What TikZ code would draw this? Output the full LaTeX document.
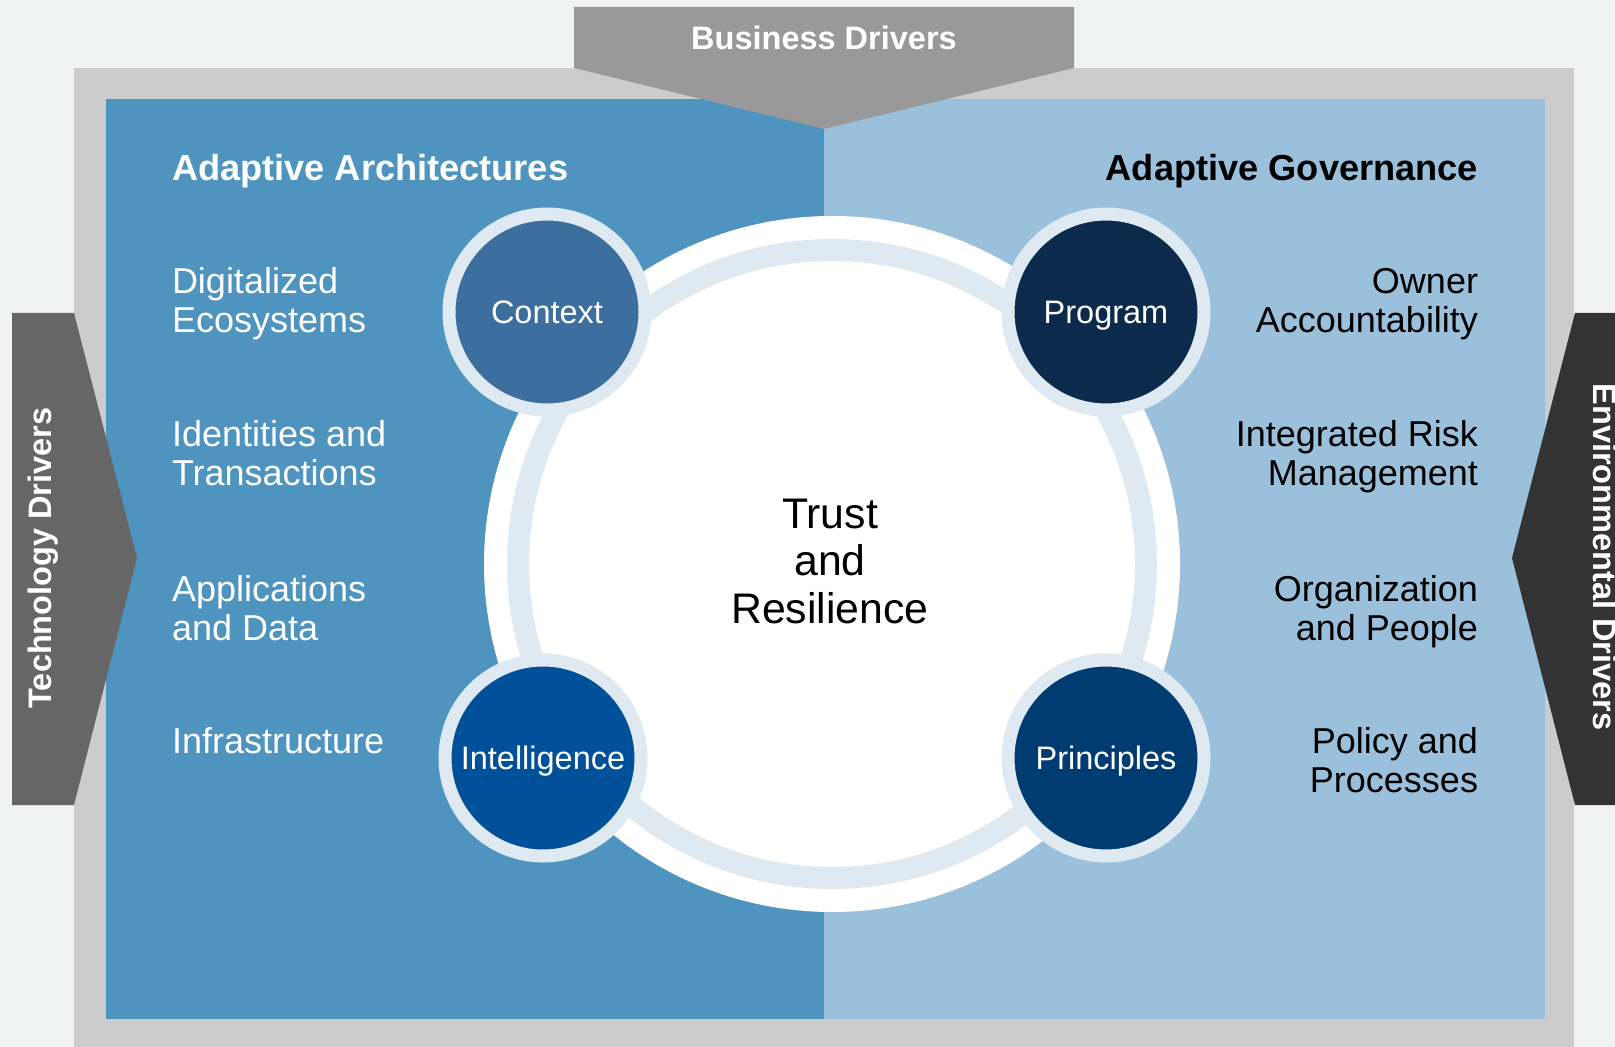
\documentclass[tikz,border=0pt]{standalone}
\usepackage{fontspec}
\setmainfont{Liberation Sans}
\definecolor{bgcol}{HTML}{F1F2F2}
\definecolor{framecol}{HTML}{CCCCCC}
\definecolor{archblue}{HTML}{4E94BF}
\definecolor{govblue}{HTML}{9AC0DC}
\definecolor{ringcol}{HTML}{DFE9F2}
\definecolor{buscol}{HTML}{999999}
\definecolor{techcol}{HTML}{666666}
\definecolor{envcol}{HTML}{333333}
\definecolor{ctxcol}{HTML}{3D6F9E}
\definecolor{progcol}{HTML}{0C2A4B}
\definecolor{intelcol}{HTML}{00509A}
\definecolor{princcol}{HTML}{003C71}

\begin{document}
\begin{tikzpicture}[x=0.5pt, y=-0.5pt,
    every node/.style={inner sep=0pt, outer sep=0pt},
    head/.style={font=\bfseries\fontsize{18.1}{20}\selectfont},
    item/.style={font=\fontsize{18}{19.5}\selectfont},
    driver/.style={text=white, font=\bfseries\fontsize{16.25}{18}\selectfont},
    pillar/.style={circle, draw=ringcol, line width=6.5pt, minimum size=98pt,
        text=white, font=\fontsize{16.25}{18}\selectfont, text height=11.6pt, text depth=0pt}]
    \useasboundingbox (0,0) rectangle (1615,1047);
    \fill[bgcol] (0,0) rectangle (1615,1047);
    \fill[framecol] (74,68) rectangle (1574,1047);
    \fill[archblue] (106,99) rectangle (824,1019);
    \fill[govblue] (824,99) rectangle (1545,1019);
    % drivers
    \fill[buscol] (574,7) -- (1074,7) -- (1074,68) -- (824,129) -- (574,68) -- cycle;
    \node[driver, anchor=base] (bus) at (824,50) {Business Drivers};
    \fill[techcol] (12,313) -- (74,313) -- (137,558) -- (74,805) -- (12,805) -- cycle;
    \node[driver, rotate=90, anchor=base] (tech) at (51,558) {Technology Drivers};
    \fill[envcol] (1615,313) -- (1575,313) -- (1512,558) -- (1575,805) -- (1615,805) -- cycle;
    \node[driver, rotate=-90, anchor=base] (env) at (1593,557) {Environmental Drivers};
    % core
    \node[circle, fill=white, minimum size=348pt] (core) at (832,564) {};
    \draw[ringcol, line width=11pt] (core.center) circle (314);
    \node[align=center, font=\fontsize{21.4}{23.75}\selectfont] (trust) at (830,561) {Trust\\and\\Resilience};
    \node[pillar, fill=ctxcol] (ctx) at (547,312) {Context};
    \node[pillar, fill=progcol] (prog) at (1106,312) {Program};
    \node[pillar, fill=intelcol] (intel) at (543,758) {Intelligence};
    \node[pillar, fill=princcol] (princ) at (1106,758) {Principles};
    % headings
    \node[head, text=white, anchor=base west] (arch) at (172,181) {Adaptive Architectures};
    \node[head, text=black, anchor=base east] (gov) at (1478,181) {Adaptive Governance};
    % left list (base = last line)
    \node[item, text=white, align=left, anchor=base west] (digi) at (172,333) {Digitalized\\Ecosystems};
    \node[item, text=white, align=left, anchor=base west] (ident) at (172,486) {Identities and\\Transactions};
    \node[item, text=white, align=left, anchor=base west] (apps) at (172,640) {Applications\\and Data};
    \node[item, text=white, align=left, anchor=base west] (infra) at (172,753) {Infrastructure};
    % right list
    \node[item, align=right, anchor=base east] (owner) at (1478,333) {Owner\\Accountability};
    \node[item, align=right, anchor=base east] (risk) at (1478,486) {Integrated Risk\\Management};
    \node[item, align=right, anchor=base east] (org) at (1478,640) {Organization\\and People};
    \node[item, align=right, anchor=base east] (policy) at (1478,792) {Policy and\\Processes};
\end{tikzpicture}
\end{document}
